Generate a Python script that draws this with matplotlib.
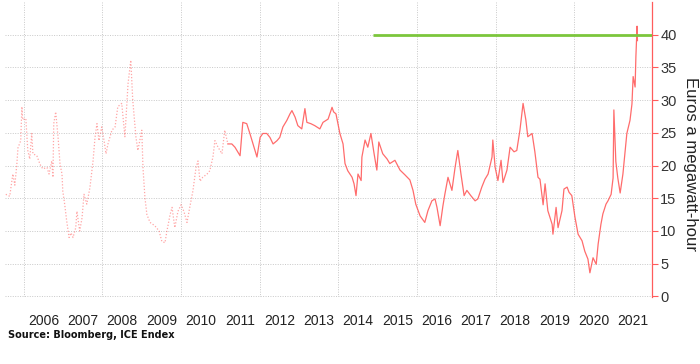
import matplotlib
matplotlib.use("Agg")
import matplotlib.pyplot as plt

# early, sparse part of the series (decimal year, euros per MWh)
early_t = [2005.54, 2005.64, 2005.72, 2005.77, 2005.82, 2005.85, 2005.92, 2005.95, 2005.97,
           2006.05, 2006.10, 2006.15, 2006.20, 2006.23, 2006.33, 2006.41, 2006.48, 2006.59,
           2006.64, 2006.71, 2006.74, 2006.76, 2006.81, 2006.87, 2006.92, 2006.97, 2006.99,
           2007.04, 2007.09, 2007.15, 2007.20, 2007.25, 2007.32, 2007.35, 2007.42, 2007.48,
           2007.53, 2007.60, 2007.68, 2007.76, 2007.81, 2007.86, 2007.91, 2007.98, 2008.04,
           2008.09, 2008.14, 2008.24, 2008.32, 2008.39, 2008.49, 2008.57, 2008.65, 2008.72,
           2008.77, 2008.85, 2008.90, 2009.00, 2009.03, 2009.08, 2009.13, 2009.21, 2009.33,
           2009.44, 2009.51, 2009.59, 2009.64, 2009.72, 2009.77, 2009.84, 2009.92, 2010.00,
           2010.07, 2010.15, 2010.22, 2010.30, 2010.38, 2010.43, 2010.48, 2010.55, 2010.66,
           2010.73, 2010.81, 2010.86, 2010.94, 2011.04, 2011.11, 2011.19]
early_v = [15.6, 15.3, 18.7, 17.0, 20.1, 22.7, 23.8, 29.0, 27.0,
           27.2, 22.3, 21.0, 24.9, 21.8, 21.5, 20.2, 19.5, 19.7,
           18.7, 20.7, 18.2, 26.4, 28.2, 24.3, 20.2, 18.7, 16.1,
           14.0, 11.5, 9.0, 9.7, 9.0, 10.5, 13.0, 10.0, 12.0,
           15.6, 14.1, 16.6, 20.7, 24.3, 26.4, 23.8, 25.9, 23.8,
           21.8, 23.3, 25.4, 25.9, 29.0, 29.5, 24.4, 32.5, 36.1,
           30.0, 24.4, 22.3, 25.4, 19.7, 15.1, 12.5, 11.3, 10.8,
           10.0, 8.4, 8.2, 10.0, 12.5, 13.6, 10.5, 13.0, 14.0,
           13.0, 11.3, 13.6, 16.1, 19.7, 20.7, 17.6, 18.2, 18.7,
           19.2, 21.3, 23.8, 22.8, 21.8, 25.4, 23.3]

# later part of the series
late_t = [2011.19, 2011.29, 2011.37, 2011.50, 2011.57, 2011.67, 2011.75, 2011.83, 2011.93,
          2012.01, 2012.08, 2012.18, 2012.26, 2012.34, 2012.44, 2012.51, 2012.59, 2012.69,
          2012.77, 2012.82, 2012.90, 2012.97, 2013.07, 2013.15, 2013.20, 2013.30, 2013.40,
          2013.53, 2013.61, 2013.74, 2013.84, 2013.88, 2013.94, 2014.04, 2014.12, 2014.17,
          2014.24, 2014.35, 2014.40, 2014.45, 2014.50, 2014.58, 2014.60, 2014.68, 2014.75,
          2014.83, 2014.91, 2014.98, 2015.03, 2015.13, 2015.24, 2015.31, 2015.44, 2015.57,
          2015.69, 2015.82, 2015.90, 2015.97, 2016.08, 2016.20, 2016.28, 2016.38, 2016.46,
          2016.51, 2016.59, 2016.66, 2016.71, 2016.79, 2016.89, 2016.97, 2017.04, 2017.12,
          2017.20, 2017.27, 2017.37, 2017.48, 2017.55, 2017.65, 2017.73, 2017.81, 2017.91,
          2017.93, 2017.99, 2018.06, 2018.14, 2018.19, 2018.29, 2018.37, 2018.47, 2018.54,
          2018.62, 2018.70, 2018.77, 2018.82, 2018.93, 2019.00, 2019.08, 2019.13, 2019.21,
          2019.26, 2019.33, 2019.44, 2019.46, 2019.54, 2019.59, 2019.69, 2019.74, 2019.82,
          2019.87, 2019.94, 2020.02, 2020.10, 2020.20, 2020.27, 2020.35, 2020.40, 2020.48,
          2020.56, 2020.61, 2020.68, 2020.73, 2020.81, 2020.86, 2020.94, 2020.99, 2021.01,
          2021.06, 2021.11, 2021.17, 2021.24, 2021.29, 2021.34, 2021.42, 2021.47, 2021.50,
          2021.55, 2021.57, 2021.60, 2021.61]
late_v = [23.3, 23.3, 22.8, 21.5, 26.6, 26.4, 24.9, 23.3, 21.3,
          24.3, 24.9, 24.9, 24.3, 23.3, 23.8, 24.3, 25.9, 26.9,
          27.9, 28.4, 27.4, 26.1, 25.6, 28.7, 26.6, 26.4, 26.1,
          25.6, 26.6, 27.1, 28.9, 28.2, 27.9, 24.9, 23.3, 20.3,
          19.2, 18.2, 17.2, 15.4, 18.7, 17.7, 21.3, 23.9, 22.8,
          24.9, 21.8, 19.3, 23.6, 21.8, 21.0, 20.3, 20.8, 19.3,
          18.6, 17.8, 16.2, 14.1, 12.3, 11.3, 13.1, 14.6, 14.9,
          13.6, 10.8, 13.8, 15.6, 18.2, 16.2, 19.7, 22.3, 18.7,
          15.4, 16.2, 15.4, 14.6, 14.9, 16.7, 17.9, 18.7, 21.3,
          23.9, 19.7, 17.7, 20.8, 17.4, 19.3, 22.8, 22.1, 22.3,
          25.4, 29.5, 27.0, 24.4, 24.9, 22.1, 18.2, 17.9, 14.0,
          17.2, 13.1, 11.0, 9.5, 13.6, 10.5, 13.1, 16.4, 16.7,
          15.9, 15.4, 12.1, 9.5, 8.5, 6.9, 5.7, 3.6, 5.9,
          4.9, 8.0, 11.0, 12.6, 14.1, 14.6, 15.6, 18.1, 28.5,
          20.6, 18.1, 15.8, 18.7, 21.8, 24.9, 26.9, 29.4, 33.6,
          32.0, 36.6, 41.3, 39.1]

ref_level = 40
ref_start = 2014.88
years = list(range(2006, 2022))

red = '#ff5c5c'
plt.rcParams['font.family'] = ['Liberation Sans', 'DejaVu Sans']

fig = plt.figure(figsize=(7, 3.64), dpi=100)
ax = fig.add_axes([5/700, 1-297/364, 647/700, 295/364])

ax.plot(early_t, early_v, color=red, lw=0.9, ls=(0, (1, 1.5)), alpha=0.55)
ax.plot(late_t, late_v, color=red, lw=0.9, alpha=0.9)
ax.hlines(ref_level, ref_start, 2021.98, color='#7cc63c', lw=2, zorder=3)

ax.set_xlim(2005.52, 2021.98)
ax.set_ylim(-0.1, 45)

ax.set_xticks([y for y in years if y % 2 == 0 and y <= 2020])
ax.set_xticklabels([])
ax.set_xticks([y + 0.5 for y in years], minor=True)
ax.set_xticklabels([str(y) for y in years], minor=True)
ax.tick_params(axis='x', which='both', length=0, pad=12, labelsize=10, labelcolor='#222222')

ax.yaxis.tick_right()
ax.yaxis.set_label_position('right')
ax.set_yticks(range(0, 45, 5))
ax.tick_params(axis='y', length=4, width=0.8, color=red, labelsize=10.5,
               labelcolor='#333333', pad=2)
ax.set_ylabel('Euros a megawatt-hour', rotation=270, fontsize=12, color='#222222',
              va='center')
ax.yaxis.set_label_coords(1.06, 0.45)

for s in ['left', 'top', 'bottom']:
    ax.spines[s].set_visible(False)
ax.spines['right'].set_color(red)
ax.spines['right'].set_linewidth(0.9)

ax.grid(True, which='major', color='#c8c8c8', ls=(0, (1, 1.5)), lw=0.7)

fig.text(8/700, 1-335/364, 'Source: Bloomberg, ICE Endex', fontsize=7, fontweight='bold',
         family='DejaVu Sans', va='center', ha='left', color='#111111')

fig.savefig('out.png', dpi=100)
